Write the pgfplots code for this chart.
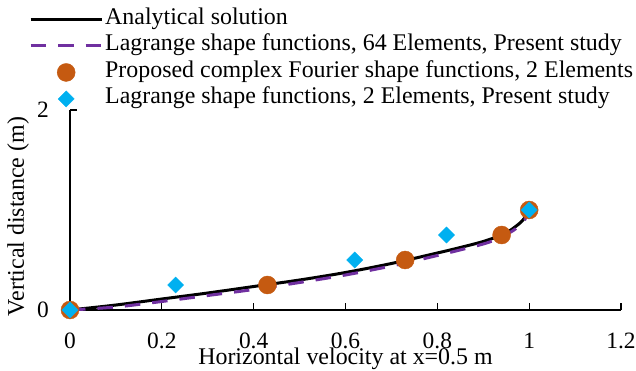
\documentclass[border=0pt]{standalone}
\usepackage{pgfplots}
\pgfplotsset{compat=1.18}
\usepackage{fontspec}
\setmainfont{Liberation Serif}
\definecolor{mypurple}{RGB}{112,48,160}
\definecolor{myorange}{RGB}{197,90,17}
\definecolor{mycyan}{RGB}{0,176,240}
\pgfplotsset{
  lineleg/.style={legend image code/.code={\draw[##1] (0bp,0bp) -- (71bp,0bp);}},
  markleg/.style={legend image code/.code={\draw[##1] plot coordinates {(35.5bp,0bp)};}},
}
\begin{document}
\fontsize{24}{28}\selectfont
\begin{tikzpicture}
\useasboundingbox (-70bp,-61bp) rectangle (566bp,310bp);
\begin{axis}[
  scale only axis, width=551bp, height=200bp,
  xmin=0, xmax=1.2, ymin=0, ymax=2,
  axis x line=bottom, axis y line=left,
  axis line style={-, line width=1.2bp, black},
  xtick={0,0.2,0.4,0.6,0.8,1,1.2}, ytick={0,2},
  xticklabels={0,0.2,0.4,0.6,0.8,1,1.2}, yticklabels={0,2},
  /pgf/number format/assume math mode=true,
  tick align=inside, major tick length=7bp,
  tick style={line width=1.2bp, black},
  font=\fontsize{24}{28}\selectfont,
  tick label style={font=\fontsize{23.5}{28}\selectfont, inner sep=0pt},
  xticklabel style={anchor=north, yshift=-23bp},
  yticklabel style={anchor=east, xshift=-21bp},
  xlabel={Horizontal velocity at x=0.5 m},
  xlabel style={font=\fontsize{24}{28}\selectfont, at={(axis description cs:0.5,0)}, anchor=base, yshift=-54bp},
  ylabel={Vertical distance (m)},
  ylabel style={font=\fontsize{24}{28}\selectfont, at={(axis description cs:-0.0835,0.4675)}, anchor=base},
  clip=false,
  legend style={draw=none, fill=none, at={(0,1)}, anchor=north west,
    xshift=-44bp, yshift=106bp, legend cell align=left,
    font=\fontsize{24}{28}\selectfont,
    nodes={inner sep=0pt, text height=18bp, text depth=8.5bp},
    column sep=2bp, row sep=0pt},
]
\addplot[black, line width=3bp, smooth, lineleg]
  coordinates {(0,0) (0.1,0.05) (0.2,0.11) (0.3,0.17) (0.4,0.235) (0.5,0.30) (0.6,0.375) (0.7,0.465) (0.8,0.57) (0.85,0.625) (0.9,0.685) (0.94,0.75) (0.96,0.80) (0.98,0.87) (0.99,0.92) (1,1)};
\addlegendentry{Analytical solution}
\addplot[mypurple, line width=3bp, dash pattern=on 15.5bp off 12bp, smooth, lineleg]
  coordinates {(0,0) (0.1,0.03) (0.2,0.085) (0.3,0.145) (0.4,0.205) (0.5,0.275) (0.6,0.35) (0.7,0.44) (0.8,0.545) (0.9,0.66) (0.94,0.73) (0.97,0.81) (0.99,0.9) (1,1)};
\addlegendentry{Lagrange shape functions, 64 Elements, Present study}
\addplot[only marks, mark=*, mark size=9bp, color=myorange, markleg]
  coordinates {(0,0) (0.43,0.25) (0.73,0.5) (0.94,0.75) (1,1)};
\addlegendentry{Proposed complex Fourier shape functions, 2 Elements}
\addplot[only marks, mark=square*, mark size=5.7bp, mark options={rotate=45}, color=mycyan, markleg]
  coordinates {(0,0) (0.23,0.25) (0.62,0.5) (0.82,0.75) (1,1)};
\addlegendentry{Lagrange shape functions, 2 Elements, Present study}
\end{axis}
\end{tikzpicture}
\end{document}
